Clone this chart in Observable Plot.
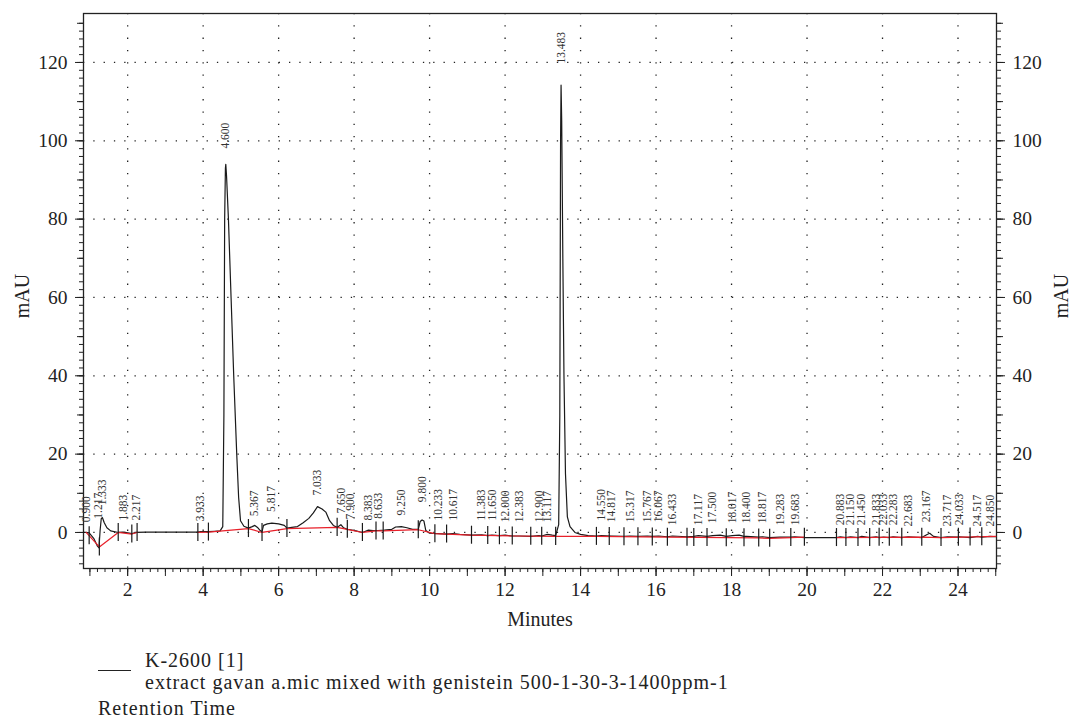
<!DOCTYPE html>
<html><head><meta charset="utf-8">
<script src="https://cdn.jsdelivr.net/npm/d3@7"></script>
<script src="https://cdn.jsdelivr.net/npm/@observablehq/plot@0.6"></script>
<style>
body{margin:0;background:#fff;font-family:"Liberation Serif","Times New Roman",serif;color:#222;position:relative;width:1073px;height:720px;overflow:hidden;}
.leg{position:absolute;font-size:20px;letter-spacing:1px;white-space:nowrap;line-height:20px;}
.swatch{display:inline-block;width:33px;border-bottom:1.3px solid #222;position:absolute;}
</style></head><body>
<div id="chart"></div>
<span class="swatch" style="left:98px;top:670px;"></span>
<div class="leg" style="left:145px;top:650px;">K-2600 [1]</div>
<div class="leg" style="left:145px;top:672px;">extract gavan a.mic mixed with genistein 500-1-30-3-1400ppm-1</div>
<div class="leg" style="left:98px;top:698px;">Retention Time</div>
<script>
// chromatogram signal (minutes, mAU)
const signalTime = [0.83,0.90,0.98,1.10,1.20,1.24,1.27,1.30,1.33,1.38,1.45,1.55,1.75,1.88,2.0,2.11,2.22,2.5,3.0,3.5,3.86,3.93,4.14,4.3,4.45,4.52,4.55,4.57,4.59,4.60,4.62,4.67,4.74,4.81,4.89,4.94,4.99,5.08,5.2,5.30,5.37,5.45,5.52,5.56,5.60,5.70,5.82,6.0,6.15,6.22,6.35,6.5,6.65,6.80,6.92,7.03,7.15,7.25,7.35,7.45,7.55,7.62,7.65,7.72,7.82,7.90,8.05,8.22,8.38,8.50,8.63,8.8,9.0,9.1,9.25,9.4,9.55,9.70,9.75,9.80,9.85,9.90,10.0,10.23,10.45,10.62,10.8,11.1,11.38,11.54,11.65,11.85,12.0,12.19,12.38,12.68,12.9,12.97,13.12,13.25,13.34,13.42,13.45,13.47,13.483,13.50,13.53,13.56,13.60,13.65,13.72,13.85,14.0,14.2,14.42,14.55,14.82,15.15,15.32,15.52,15.77,15.90,16.07,16.30,16.43,16.82,17.0,17.12,17.35,17.5,17.7,17.86,18.02,18.2,18.33,18.4,18.72,18.82,19.01,19.28,19.57,19.68,19.93,20.3,20.78,20.88,21.03,21.15,21.35,21.45,21.66,21.83,21.91,22.03,22.18,22.28,22.51,22.68,23.04,23.17,23.25,23.35,23.55,23.72,24.01,24.03,24.32,24.52,24.63,24.85,25.02];
const signalValue = [0.0,0.0,-0.1,-1.5,-3.5,-3.9,0.5,3.5,3.8,2.5,1.2,0.4,0.0,0.1,-0.1,-0.3,0.0,0.1,0.1,0.1,0.1,0.2,0.2,0.3,0.4,1.5,30,80,93,94,91,80,60,40,20,9,3,1.6,1.1,1.5,1.8,1.2,0.4,0.2,1.8,2.2,2.4,2.2,1.8,1.1,1.3,1.5,2.5,3.6,5.0,6.6,6.0,5.2,3.0,1.8,1.3,1.8,2.0,1.2,0.8,0.7,0.4,0.0,0.6,0.5,0.5,0.6,0.8,1.4,1.5,1.2,0.8,0.8,2.8,3.2,2.9,0.5,-0.2,-0.3,-0.4,-0.3,-0.5,-0.7,-0.6,-0.8,-0.7,-0.8,-0.7,-0.9,-0.9,-1.0,-0.8,-0.9,-0.5,-0.7,-0.8,2,30,100,114.2,105,70,40,15,4,1.5,0.0,-0.5,-0.8,-0.9,-0.8,-0.9,-1.0,-0.9,-1.0,-0.9,-1.0,-0.9,-1.1,-0.9,-1.1,-1.0,-0.8,-1.0,-0.8,-0.7,-1.0,-0.8,-0.7,-1.0,-1.0,-1.2,-1.1,-1.3,-1.2,-1.2,-1.1,-1.3,-1.3,-1.3,-1.1,-1.3,-1.1,-1.3,-1.0,-1.3,-1.1,-1.3,-1.2,-1.3,-1.1,-1.3,-1.1,-1.3,-0.6,-0.2,-1.0,-1.3,-1.1,-1.2,-1.1,-1.3,-1.0,-1.2,-1.0,-1.1];
// integration baseline (red); NaN = no baseline drawn
const baselineTime = [0.90,1.25,1.75,2.11,2.25,2.26,3.86,4.14,5.2,5.56,6.22,7.55,7.82,8.22,8.58,8.77,9.70,10.14,10.45,11.11,12.19,13.34,14.42,16.30,18.72,19.01,19.57,19.93,20.3,20.78,23.04,23.55,25.0];
const baselineValue = [0,-3.7,0,-0.4,0,NaN,0.0,0.1,1.0,0.0,1.0,1.3,0.8,0.0,0.4,0.4,0.7,-0.3,-0.4,-0.7,-0.9,-1.0,-1.0,-1.2,-1.4,-1.5,-1.3,-1.2,NaN,-1.3,-1.2,-1.3,-1.0];
// peak retention times and label heights
const peakLabel = ["0.900","1.217","1.333","1.883","2.217","3.933","4.600","5.367","5.817","7.033","7.650","7.900","8.383","8.633","9.250","9.800","10.233","10.617","11.383","11.650","12.000","12.383","12.900","13.117","13.483","14.550","14.817","15.317","15.767","16.067","16.433","17.117","17.500","18.017","18.400","18.817","19.283","19.683","20.883","21.150","21.450","21.833","22.033","22.283","22.683","23.167","23.717","24.033","24.517","24.850"];
const peakHeight = [1.1,2.0,5.4,1.5,1.5,1.3,96.5,2.6,3.7,7.9,3.3,1.8,1.5,2.0,2.8,6.2,1.5,1.5,1.5,1.5,1.1,1.1,1.1,1.1,118.2,1.5,1.1,1.1,1.1,1.1,0.3,0.3,0.8,0.8,0.8,0.8,0.3,0.3,0.3,0.3,0.3,0.3,0.3,0.3,0.0,1.1,0.0,0.3,0.0,0.0];
// peak start/end markers
const boundaryTime = [0.98,1.25,1.75,2.11,2.25,3.86,4.14,5.2,5.56,6.22,7.55,7.82,8.22,8.58,8.77,9.70,10.14,10.45,11.11,11.54,11.85,12.19,12.68,12.97,13.34,14.42,14.76,15.15,15.52,15.90,16.30,16.82,17.00,17.35,17.86,18.33,18.72,19.01,19.57,19.93,20.78,21.03,21.35,21.66,21.91,22.18,22.51,23.04,23.55,24.01,24.32,24.63];
const xTickLabels = [2,4,6,8,10,12,14,16,18,20,22,24];
const yTickLabels = [0,20,40,60,80,100,120];

const signal = signalTime.map((t,i)=>({t, v: signalValue[i]}));
const baseline = baselineTime.map((t,i)=>({t, v: baselineValue[i]}));
const peaks = peakLabel.map((s,i)=>({t:+s, label:s, h: peakHeight[i]}));
function baseAt(t){
  const pts = baseline.filter(d=>!isNaN(d.v));
  for(let i=0;i<pts.length-1;i++){
    if(t>=pts[i].t && t<=pts[i+1].t){
      const a=pts[i], b=pts[i+1];
      return a.v + (b.v-a.v)*(t-a.t)/(b.t-a.t);
    }
  }
  return pts[pts.length-1].v;
}
const bounds = boundaryTime.map(t=>({t, b: baseAt(t)}));
const blank = () => "";
const gridStyle = {stroke:"#222", strokeOpacity:1, strokeWidth:1.3};

const chart = Plot.plot({
  width: 1073, height: 640,
  marginLeft: 83, marginRight: 77, marginTop: 13, marginBottom: 72,
  x: {domain: [0.83, 25.02]},
  y: {domain: [-9.2, 132.5]},
  style: {fontFamily: '"Liberation Serif","Times New Roman",serif', fontSize: "19.5px", color: "#222", background: "#fff"},
  marks: [
    Plot.gridX(xTickLabels, {...gridStyle, strokeDasharray: "1.3,11"}),
    Plot.gridY(yTickLabels, {...gridStyle, strokeDasharray: "1.3,9"}),
    Plot.frame({stroke:"#222", strokeWidth:1.3}),
    Plot.axisX(d3.range(1, 25.01, 0.2).map(d=>+d.toFixed(1)), {tickSize: 4, tickFormat: blank, label: null}),
    Plot.axisX(d3.range(1, 26, 1), {tickSize: 8, tickFormat: blank, label: null}),
    Plot.axisX(xTickLabels, {tickSize: 8, tickPadding: 6, label: null}),
    Plot.axisY(d3.range(-8, 131, 2), {anchor:"left", tickSize: 4, tickFormat: blank, label: null}),
    Plot.axisY(d3.range(-0, 131, 10), {anchor:"left", tickSize: 6, tickFormat: blank, label: null}),
    Plot.axisY(yTickLabels, {anchor:"left", tickSize: 8, tickPadding: 8, label: null}),
    Plot.axisY(d3.range(-8, 131, 2), {anchor:"right", tickSize: 4, tickFormat: blank, label: null}),
    Plot.axisY(d3.range(-0, 131, 10), {anchor:"right", tickSize: 6, tickFormat: blank, label: null}),
    Plot.axisY(yTickLabels, {anchor:"right", tickSize: 8, tickPadding: 8, label: null}),
    Plot.text(["Minutes"], {frameAnchor: "bottom", dy: 57, fontSize: 20, textAnchor: "middle", style: "letter-spacing:0.6px"}),
    Plot.text(["mAU"], {frameAnchor: "left", dx: -61, dy: 5, rotate: -90, textAnchor: "middle", fontSize: 20}),
    Plot.text(["mAU"], {frameAnchor: "right", dx: 65, dy: 5, rotate: -90, textAnchor: "middle", fontSize: 20}),
    Plot.line(signal, {x: "t", y: "v", stroke: "#1a1a1a", strokeWidth: 1.2}),
    Plot.line(baseline, {x: "t", y: "v", stroke: "#e8202a", strokeWidth: 1.2}),
    Plot.ruleX(bounds, {x: "t", y1: d=>d.b+2.3, y2: d=>d.b-2.3, stroke: "#1a1a1a", strokeWidth: 1.2}),
    Plot.text(peaks, {x: "t", y: "h", text: "label", rotate: -90, textAnchor: "start", dy: -6, fontSize: 11.5, fill: "#333"})
  ]
});
document.getElementById("chart").appendChild(chart);
</script>
</body></html>
